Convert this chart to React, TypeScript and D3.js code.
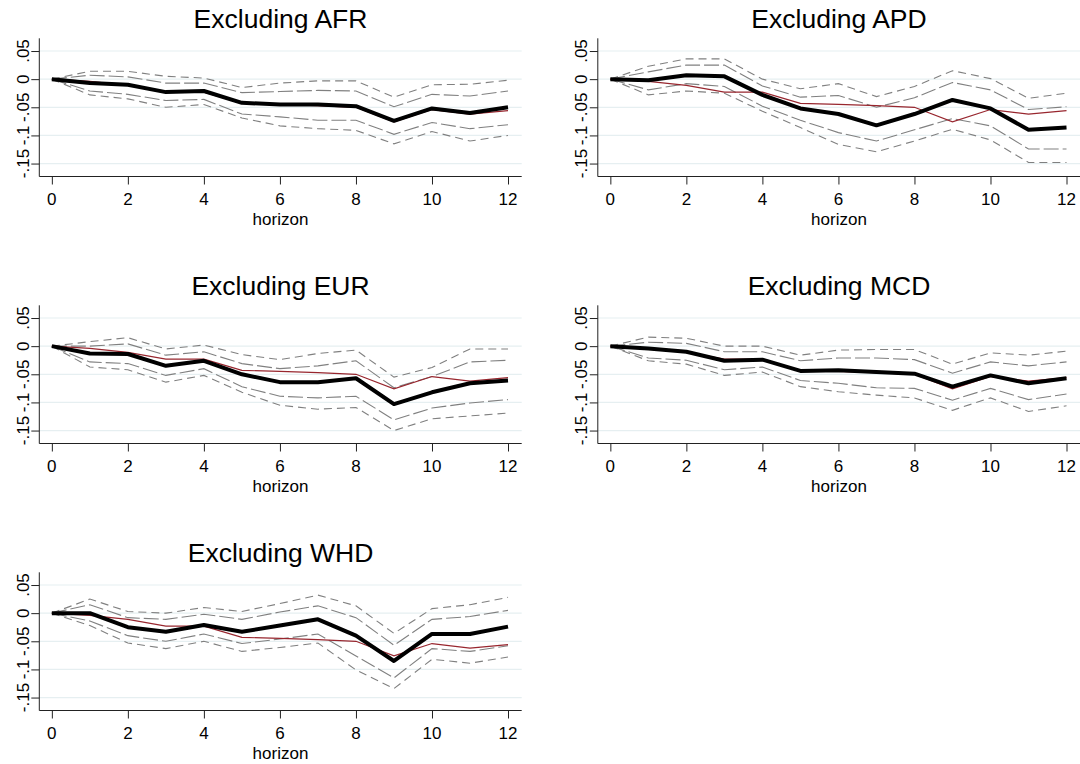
import React, { useRef, useEffect } from 'react'
import * as d3 from 'd3'

// horizons 0..12
const horizons = [0, 1, 2, 3, 4, 5, 6, 7, 8, 9, 10, 11, 12]
const yTicks = [0.05, 0, -0.05, -0.1, -0.15]
const yTickLabels = ['.05', '0', '-.05', '-.1', '-.15']
const xTicks = [0, 2, 4, 6, 8, 10, 12]

// full-sample estimate (red line, same in every panel)
const baseline = [0, -0.004, -0.011, -0.023, -0.023, -0.043, -0.045, -0.047, -0.05, -0.076, -0.054, -0.062, -0.056]

const afrEst = [0, -0.007, -0.01, -0.023, -0.021, -0.042, -0.045, -0.045, -0.048, -0.074, -0.052, -0.06, -0.05]
const afrInnerHi = [0, 0.007, 0.004, -0.007, -0.007, -0.024, -0.022, -0.02, -0.021, -0.049, -0.027, -0.03, -0.021]
const afrInnerLo = [0, -0.021, -0.027, -0.038, -0.036, -0.062, -0.067, -0.073, -0.073, -0.098, -0.077, -0.088, -0.081]
const afrOuterHi = [0, 0.014, 0.014, 0.005, 0.002, -0.015, -0.007, -0.003, -0.003, -0.032, -0.01, -0.009, -0.002]
const afrOuterLo = [0, -0.028, -0.035, -0.05, -0.045, -0.069, -0.083, -0.088, -0.091, -0.115, -0.093, -0.11, -0.1]

const apdEst = [0, -0.002, 0.007, 0.005, -0.028, -0.052, -0.062, -0.082, -0.062, -0.037, -0.052, -0.09, -0.086]
const apdInnerHi = [0, 0.013, 0.025, 0.025, -0.012, -0.032, -0.029, -0.05, -0.033, -0.006, -0.019, -0.054, -0.049]
const apdInnerLo = [0, -0.019, -0.008, -0.013, -0.048, -0.073, -0.095, -0.11, -0.09, -0.07, -0.083, -0.124, -0.124]
const apdOuterHi = [0, 0.023, 0.036, 0.036, 0, -0.017, -0.008, -0.031, -0.013, 0.015, 0.001, -0.034, -0.025]
const apdOuterLo = [0, -0.028, -0.021, -0.025, -0.057, -0.086, -0.116, -0.129, -0.11, -0.089, -0.108, -0.148, -0.148]

const eurEst = [0, -0.013, -0.014, -0.035, -0.026, -0.05, -0.064, -0.064, -0.057, -0.103, -0.082, -0.066, -0.061]
const eurInnerHi = [0, 0, 0.004, -0.016, -0.01, -0.031, -0.04, -0.035, -0.026, -0.074, -0.054, -0.028, -0.025]
const eurInnerLo = [0, -0.028, -0.031, -0.052, -0.04, -0.072, -0.089, -0.092, -0.089, -0.131, -0.11, -0.101, -0.095]
const eurOuterHi = [0, 0.008, 0.015, -0.005, 0.002, -0.015, -0.024, -0.013, -0.007, -0.055, -0.038, -0.005, -0.005]
const eurOuterLo = [0, -0.037, -0.042, -0.064, -0.052, -0.082, -0.105, -0.112, -0.109, -0.15, -0.129, -0.124, -0.119]

const mcdEst = [0, -0.004, -0.01, -0.026, -0.024, -0.044, -0.043, -0.046, -0.049, -0.072, -0.052, -0.066, -0.057]
const mcdInnerHi = [0, 0.007, 0.005, -0.01, -0.01, -0.026, -0.021, -0.021, -0.024, -0.048, -0.028, -0.035, -0.028]
const mcdInnerLo = [0, -0.021, -0.025, -0.042, -0.037, -0.061, -0.066, -0.074, -0.075, -0.096, -0.075, -0.095, -0.085]
const mcdOuterHi = [0, 0.016, 0.014, 0, 0, -0.016, -0.007, -0.006, -0.006, -0.032, -0.012, -0.016, -0.009]
const mcdOuterLo = [0, -0.026, -0.032, -0.052, -0.046, -0.072, -0.081, -0.087, -0.092, -0.114, -0.092, -0.116, -0.106]

const whdEst = [0, 0, -0.025, -0.033, -0.021, -0.033, -0.022, -0.011, -0.04, -0.085, -0.037, -0.037, -0.024]
const whdInnerHi = [0, 0.015, -0.008, -0.011, -0.002, -0.011, 0.002, 0.013, -0.008, -0.057, -0.011, -0.006, 0.005]
const whdInnerLo = [0, -0.014, -0.04, -0.05, -0.037, -0.054, -0.046, -0.037, -0.076, -0.115, -0.063, -0.068, -0.058]
const whdOuterHi = [0, 0.025, 0.003, 0, 0.01, 0.003, 0.017, 0.032, 0.013, -0.036, 0.008, 0.015, 0.028]
const whdOuterLo = [0, -0.022, -0.053, -0.063, -0.05, -0.068, -0.061, -0.053, -0.101, -0.134, -0.082, -0.089, -0.078]

const panels = [
  { title: 'Excluding AFR', est: afrEst, innerHi: afrInnerHi, innerLo: afrInnerLo, outerHi: afrOuterHi, outerLo: afrOuterLo },
  { title: 'Excluding APD', est: apdEst, innerHi: apdInnerHi, innerLo: apdInnerLo, outerHi: apdOuterHi, outerLo: apdOuterLo },
  { title: 'Excluding EUR', est: eurEst, innerHi: eurInnerHi, innerLo: eurInnerLo, outerHi: eurOuterHi, outerLo: eurOuterLo },
  { title: 'Excluding MCD', est: mcdEst, innerHi: mcdInnerHi, innerLo: mcdInnerLo, outerHi: mcdOuterHi, outerLo: mcdOuterLo },
  { title: 'Excluding WHD', est: whdEst, innerHi: whdInnerHi, innerLo: whdInnerLo, outerHi: whdOuterHi, outerLo: whdOuterLo },
]

const FONT = "'Liberation Sans', Arial, Helvetica, sans-serif"

function App() {
  const svgRef = useRef<SVGSVGElement>(null)

  useEffect(() => {
    const width = 1080
    const height = 764
    const colStep = 558.5
    const rowStep = 267
    const plot = { left: 39.3, right: 521.7, top: 38.3, bottom: 176.5 }

    const svg = d3.select(svgRef.current)
      .attr('width', width)
      .attr('height', height)
    svg.selectAll('*').remove()

    svg.append('rect').attr('width', width).attr('height', height).attr('fill', '#ffffff')

    const xScale = d3.scaleLinear().domain([-0.33, 12.36]).range([plot.left, plot.right])
    const yScale = d3.scaleLinear().domain([-0.173, 0.0726]).range([plot.bottom, plot.top])

    const line = d3.line<number>()
      .x((d, i) => xScale(horizons[i]))
      .y(d => yScale(d))

    panels.forEach((p, k) => {
      const col = k % 2
      const row = Math.floor(k / 2)
      const g = svg.append('g')
        .attr('transform', `translate(${col * colStep}, ${row * rowStep})`)

      // title
      g.append('text')
        .attr('x', (plot.left + plot.right) / 2)
        .attr('y', 28.3)
        .attr('text-anchor', 'middle')
        .attr('font-family', FONT)
        .attr('font-size', 26.5)
        .attr('fill', '#000')
        .text(p.title)

      // gridlines
      g.append('g')
        .selectAll('line')
        .data(yTicks)
        .join('line')
        .attr('x1', plot.left)
        .attr('x2', plot.right)
        .attr('y1', d => yScale(d))
        .attr('y2', d => yScale(d))
        .attr('stroke', '#e6eff1')
        .attr('stroke-width', 1.2)

      // outer band, short dash
      const outer = [p.outerHi, p.outerLo]
      g.append('g')
        .selectAll('path')
        .data(outer)
        .join('path')
        .attr('d', d => line(d))
        .attr('fill', 'none')
        .attr('stroke', '#808080')
        .attr('stroke-width', 1.1)
        .attr('stroke-dasharray', '8,5')

      // inner band, long dash
      const inner = [p.innerHi, p.innerLo]
      g.append('g')
        .selectAll('path')
        .data(inner)
        .join('path')
        .attr('d', d => line(d))
        .attr('fill', 'none')
        .attr('stroke', '#808080')
        .attr('stroke-width', 1.1)
        .attr('stroke-dasharray', '15,4')

      // baseline
      g.append('path')
        .attr('d', line(baseline))
        .attr('fill', 'none')
        .attr('stroke', '#98262e')
        .attr('stroke-width', 1.2)

      // estimate
      g.append('path')
        .attr('d', line(p.est))
        .attr('fill', 'none')
        .attr('stroke', '#000')
        .attr('stroke-width', 4)
        .attr('stroke-linejoin', 'round')

      // axes
      const yAxis = g.append('g').attr('transform', `translate(${plot.left}, 0)`)
      yAxis.call(d3.axisLeft(yScale).tickValues(yTicks).tickSize(8).tickFormat(() => ''))
      yAxis.select('.domain').attr('d', `M0,${plot.top}V${plot.bottom}`)
      yAxis.selectAll('line, path').attr('stroke', '#222')

      g.append('g')
        .selectAll('text')
        .data(yTicks)
        .join('text')
        .attr('transform', d => `translate(28.5, ${yScale(d)}) rotate(-90)`)
        .attr('text-anchor', 'middle')
        .attr('font-family', FONT)
        .attr('font-size', 17)
        .attr('fill', '#000')
        .text((d, i) => yTickLabels[i])

      const xAxis = g.append('g').attr('transform', `translate(0, ${plot.bottom})`)
      xAxis.call(d3.axisBottom(xScale).tickValues(xTicks).tickSize(8).tickFormat(() => ''))
      xAxis.select('.domain').attr('d', `M${plot.left},0H${plot.right}`)
      xAxis.selectAll('line, path').attr('stroke', '#222')

      g.append('g')
        .selectAll('text')
        .data(xTicks)
        .join('text')
        .attr('x', d => xScale(d))
        .attr('y', 204.5)
        .attr('text-anchor', 'middle')
        .attr('font-family', FONT)
        .attr('font-size', 17)
        .attr('fill', '#000')
        .text(d => String(d))

      g.append('text')
        .attr('x', (plot.left + plot.right) / 2)
        .attr('y', 225)
        .attr('text-anchor', 'middle')
        .attr('font-family', FONT)
        .attr('font-size', 17)
        .attr('fill', '#000')
        .text('horizon')
    })
  }, [])

  return (
    <svg ref={svgRef} style={{ position: 'absolute', left: 0, top: 0, display: 'block' }}></svg>
  )
}

export default App
